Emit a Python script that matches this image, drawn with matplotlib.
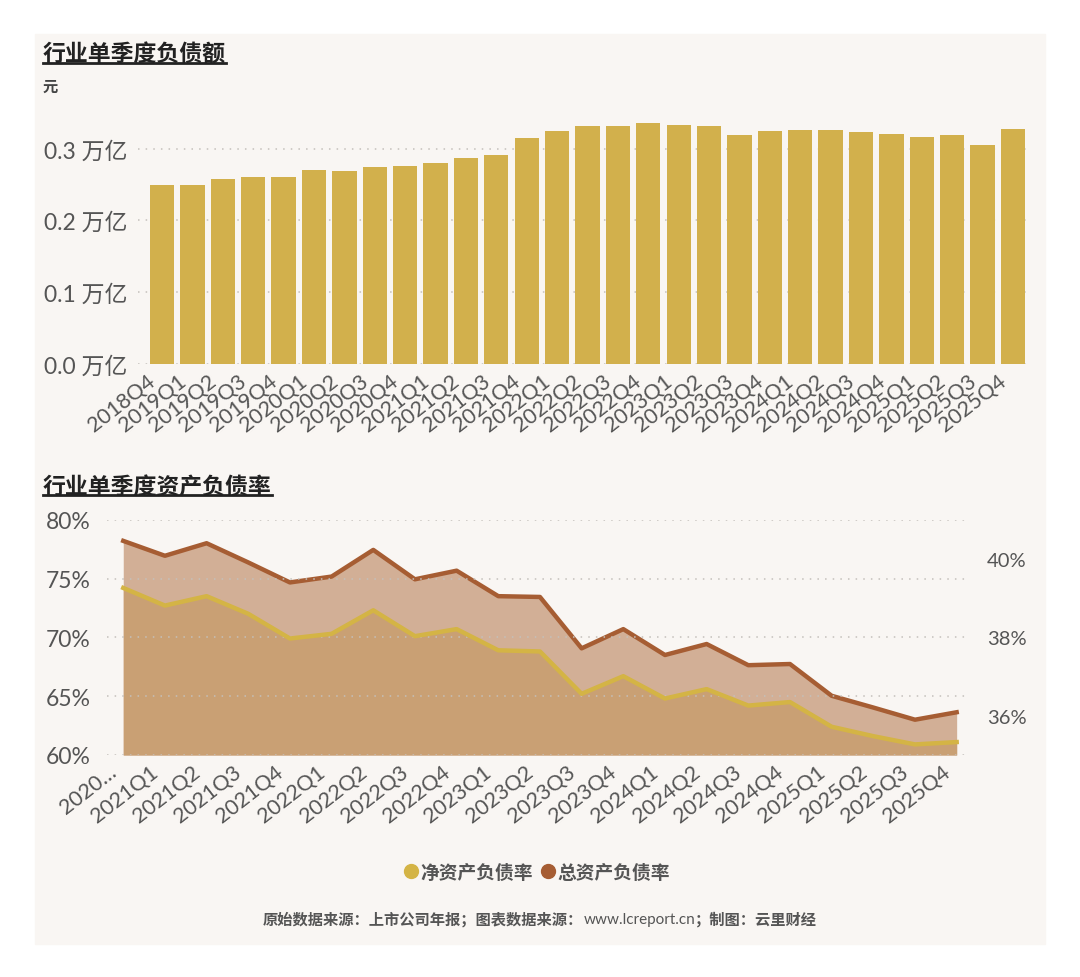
import matplotlib
matplotlib.use("Agg")
import matplotlib.pyplot as plt
from matplotlib.patches import Rectangle
from matplotlib.lines import Line2D
from matplotlib.transforms import ScaledTranslation

plt.rcParams['font.family'] = ['Lato', 'Noto Sans CJK SC', 'DejaVu Sans']

# 行业单季度负债额 (万亿)
bar_labels = ['2018Q4',
              '2019Q1', '2019Q2', '2019Q3', '2019Q4',
              '2020Q1', '2020Q2', '2020Q3', '2020Q4',
              '2021Q1', '2021Q2', '2021Q3', '2021Q4',
              '2022Q1', '2022Q2', '2022Q3', '2022Q4',
              '2023Q1', '2023Q2', '2023Q3', '2023Q4',
              '2024Q1', '2024Q2', '2024Q3', '2024Q4',
              '2025Q1', '2025Q2', '2025Q3', '2025Q4']
debt = [0.250, 0.250, 0.258, 0.260, 0.261, 0.271, 0.269, 0.274, 0.276,
        0.280, 0.287, 0.291, 0.315, 0.324, 0.332, 0.332, 0.336, 0.333,
        0.331, 0.319, 0.325, 0.326, 0.326, 0.323, 0.321, 0.316, 0.319,
        0.305, 0.327]

# 行业单季度资产负债率 (%)
ratio_labels = ['2020…',
                '2021Q1', '2021Q2', '2021Q3', '2021Q4',
                '2022Q1', '2022Q2', '2022Q3', '2022Q4',
                '2023Q1', '2023Q2', '2023Q3', '2023Q4',
                '2024Q1', '2024Q2', '2024Q3', '2024Q4',
                '2025Q1', '2025Q2', '2025Q3', '2025Q4']
net_ratio = [74.2, 72.7, 73.5, 72.0, 69.9, 70.3, 72.3, 70.1, 70.7, 68.9, 68.8,
             65.2, 66.7, 64.8, 65.6, 64.2, 64.5, 62.4, 61.6, 60.9, 61.1]
total_ratio = [40.46, 40.08, 40.40, 39.91, 39.40, 39.55, 40.23, 39.48, 39.70,
               39.05, 39.03, 37.72, 38.21, 37.55, 37.83, 37.29, 37.32, 36.51,
               36.21, 35.90, 36.09]

W, H = 1080, 978
BG = '#F9F6F3'
GOLD = '#D2B04C'
YEL = '#D4B445'
BROWN = '#A65D33'
TXT = '#555555'


def fx(px):
    return px / W


def fy(py):
    return 1 - py / H


fig = plt.figure(figsize=(W / 100, H / 100), dpi=100)
fig.patch.set_facecolor('white')
fig.patches.append(Rectangle((fx(35), fy(945)), fx(1045) - fx(35), fy(35) - fy(945),
                             transform=fig.transFigure, color=BG, zorder=-10))

grid_kw = dict(color='#c4c0bb', linestyle=(0, (1, 4)), linewidth=1.1)

# ---- 上图：柱状图 ----
ax1 = fig.add_axes([fx(138), fy(365), (1030 - 138) / W, (365 - 121) / H])
ax1.patch.set_visible(False)
x1 = list(range(len(debt)))
ax1.bar(x1, debt, width=0.8, color=GOLD, zorder=2)
ax1.set_xlim(-0.79, 28.56)
ax1.set_ylim(0, 0.34)
ax1.set_yticks([0, 0.1, 0.2, 0.3])
ax1.set_yticklabels([f'{v:.1f} 万亿' for v in [0, 0.1, 0.2, 0.3]])
ax1.yaxis.grid(True, **grid_kw)
ax1.set_axisbelow(True)
ax1.set_xticks(x1)
ax1.set_xticklabels(bar_labels, rotation=38, ha='right', va='center',
                    rotation_mode='anchor')
ax1.tick_params(axis='y', length=0, pad=8, labelsize=16.5, labelcolor=TXT)
ax1.tick_params(axis='x', length=0, pad=10, labelsize=15.5, labelcolor=TXT)
for s in ax1.spines.values():
    s.set_visible(False)
off = ScaledTranslation(-9 / 100, 0, fig.dpi_scale_trans)
for lbl in ax1.get_xticklabels():
    lbl.set_transform(lbl.get_transform() + off)

# ---- 下图：双轴面积折线 ----
ax2 = fig.add_axes([fx(107), fy(756), (970 - 107) / W, (756 - 520.7) / H])
ax2r = ax2.twinx()
ax2r.set_zorder(1)
ax2.set_zorder(2)
ax2.patch.set_visible(False)
ax2r.patch.set_visible(False)

x2 = list(range(len(ratio_labels)))
ax2r.fill_between(x2, total_ratio, 35, color='#D2AF96', linewidth=0, zorder=1)
ax2r.plot(x2, total_ratio, color=BROWN, linewidth=3.2, zorder=3)
ax2.fill_between(x2, net_ratio, 60, color='#C9A074', linewidth=0, zorder=1)
ax2.plot(x2, net_ratio, color=YEL, linewidth=3.2, zorder=3)

ax2.set_xlim(-0.39, 20.32)
ax2.set_ylim(60, 80)
ax2r.set_ylim(35, 41)
ax2.set_yticks([60, 65, 70, 75, 80])
ax2.set_yticklabels([f'{v}%' for v in [60, 65, 70, 75, 80]])
ax2r.set_yticks([36, 38, 40])
ax2r.set_yticklabels([f'{v}%' for v in [36, 38, 40]])
ax2.yaxis.grid(True, **grid_kw)
ax2.set_axisbelow('line')
ax2.set_xticks(x2)
ax2.set_xticklabels(ratio_labels, rotation=38, ha='right', va='center',
                    rotation_mode='anchor')
ax2.tick_params(axis='y', length=0, pad=12, labelsize=16.5, labelcolor=TXT)
ax2r.tick_params(axis='y', length=0, pad=12, labelsize=14.5, labelcolor=TXT)
ax2.tick_params(axis='x', length=0, pad=10, labelsize=15.5, labelcolor=TXT)
for a in (ax2, ax2r):
    for s in a.spines.values():
        s.set_visible(False)
for lbl in ax2.get_xticklabels():
    lbl.set_transform(lbl.get_transform() + off)

# ---- 标题 ----
t1 = fig.text(fx(43), fy(55), '行业单季度负债额', fontsize=16.5, fontweight='bold',
              color='#222222', ha='left', va='center')
t2 = fig.text(fx(43), fy(487), '行业单季度资产负债率', fontsize=16.5, fontweight='bold',
              color='#222222', ha='left', va='center')
fig.text(fx(43), fy(88), '元', fontsize=11, fontweight='bold', color='#444444',
         ha='left', va='center')

renderer = fig.canvas.get_renderer()
for t, uy in ((t1, 64), (t2, 496)):
    bb = t.get_window_extent(renderer)
    fig.add_artist(Line2D([bb.x0 / W, bb.x1 / W], [fy(uy), fy(uy)],
                          transform=fig.transFigure, color='#222222', lw=2))

# ---- 图例 ----
handles = [Line2D([], [], marker='o', linestyle='', markersize=10, color=YEL),
           Line2D([], [], marker='o', linestyle='', markersize=10, color=BROWN)]
fig.legend(handles, ['净资产负债率', '总资产负债率'], loc='center',
           bbox_to_anchor=(fx(538), fy(873)), ncol=2, frameon=False,
           handlelength=0.6, handletextpad=0.2, columnspacing=0.5,
           prop=dict(size=13.5, weight='bold'), labelcolor=TXT)

# ---- 数据来源 ----
parts = [('原始数据来源：上市公司年报；图表数据来源：', 'bold'),
         ('www.lcreport.cn', 'normal'),
         ('；制图：云里财经', 'bold')]
texts = [fig.text(0, fy(920), s, fontsize=11, fontweight=w, color=TXT,
                  ha='left', va='center') for s, w in parts]
widths = [t.get_window_extent(renderer).width for t in texts]
xpos = 540 - sum(widths) / 2
for t, w in zip(texts, widths):
    t.set_x(xpos / W)
    xpos += w

fig.savefig('out.png', dpi=100, facecolor='white')
